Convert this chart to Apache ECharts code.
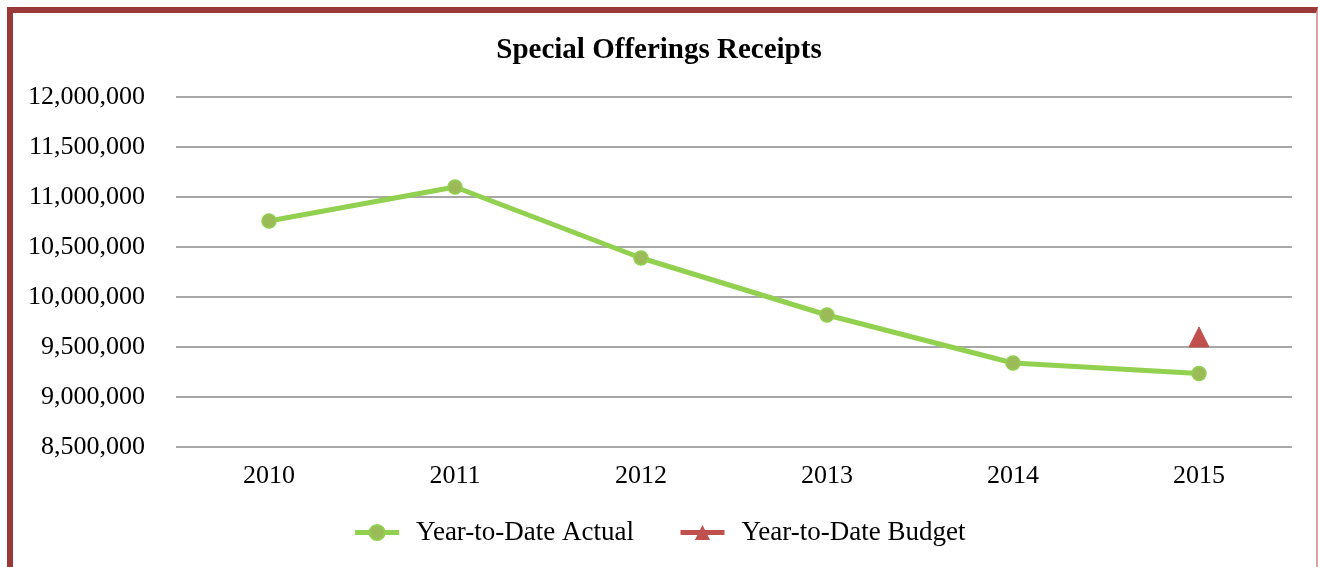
<!DOCTYPE html>
<html>
<head>
<meta charset="utf-8">
<script src="https://cdn.jsdelivr.net/npm/echarts@6/dist/echarts.min.js"></script>
<style>
html,body{margin:0;padding:0;background:#fff;}
#frame{position:absolute;left:7px;top:7px;width:1311px;height:600px;border-left:6px solid #9B3838;border-top:6px solid #9B3838;border-right:2px solid #d9a3a3;box-sizing:border-box;}
#chart{position:absolute;left:0;top:0;width:1318px;height:567px;}
</style>
</head>
<body>
<div id="frame"></div>
<div id="chart"></div>
<script>
const categories = ['2010','2011','2012','2013','2014','2015'];
const actualValues = [10760000, 11100000, 10390000, 9820000, 9340000, 9235000];
const budgetValues = [null, null, null, null, null, 9600000];
const seriesNames = ['Year-to-Date Actual', 'Year-to-Date Budget'];
const yMin = 8500000, yMax = 12000000, yStep = 500000;

const font = '"Liberation Serif", "Times New Roman", serif';
const chart = echarts.init(document.getElementById('chart'));
chart.setOption({
  animation: false,
  textStyle: { fontFamily: font },
  title: {
    text: 'Special Offerings Receipts',
    left: 'center', top: 31,
    textStyle: { fontFamily: font, fontSize: 29, fontWeight: 'bold', color: '#000' }
  },
  legend: {
    top: 514, left: 'center',
    itemWidth: 44, itemHeight: 19, itemGap: 44,
    lineStyle: { width: 5 },
    textStyle: { fontFamily: font, fontSize: 27, color: '#000', padding: [0, 0, 0, 12] },
    data: seriesNames
  },
  grid: { left: 176, right: 26, top: 97, bottom: 120 },
  xAxis: {
    type: 'category',
    data: categories,
    axisLine: { show: false },
    axisTick: { show: false },
    axisLabel: { fontFamily: font, fontSize: 26, color: '#000', margin: 16 }
  },
  yAxis: {
    type: 'value',
    min: yMin, max: yMax, interval: yStep,
    axisLine: { show: false },
    axisTick: { show: false },
    splitLine: { lineStyle: { color: '#8a8a8a', width: 1.6 } },
    axisLabel: {
      fontFamily: font, fontSize: 26, color: '#000', margin: 31,
      formatter: v => v.toLocaleString('en-US')
    }
  },
  series: [
    {
      name: seriesNames[0], type: 'line', data: actualValues,
      symbol: 'circle', symbolSize: 14,
      lineStyle: { color: '#92D050', width: 5 },
      itemStyle: { color: '#9BBB59', borderColor: '#92D050', borderWidth: 1.5 }
    },
    {
      name: seriesNames[1], type: 'line', data: budgetValues,
      symbol: 'triangle', symbolSize: [20, 20],
      lineStyle: { color: '#C0504D', width: 5 },
      itemStyle: { color: '#C0504D', borderColor: '#C0504D' }
    }
  ]
});
</script>
</body>
</html>
